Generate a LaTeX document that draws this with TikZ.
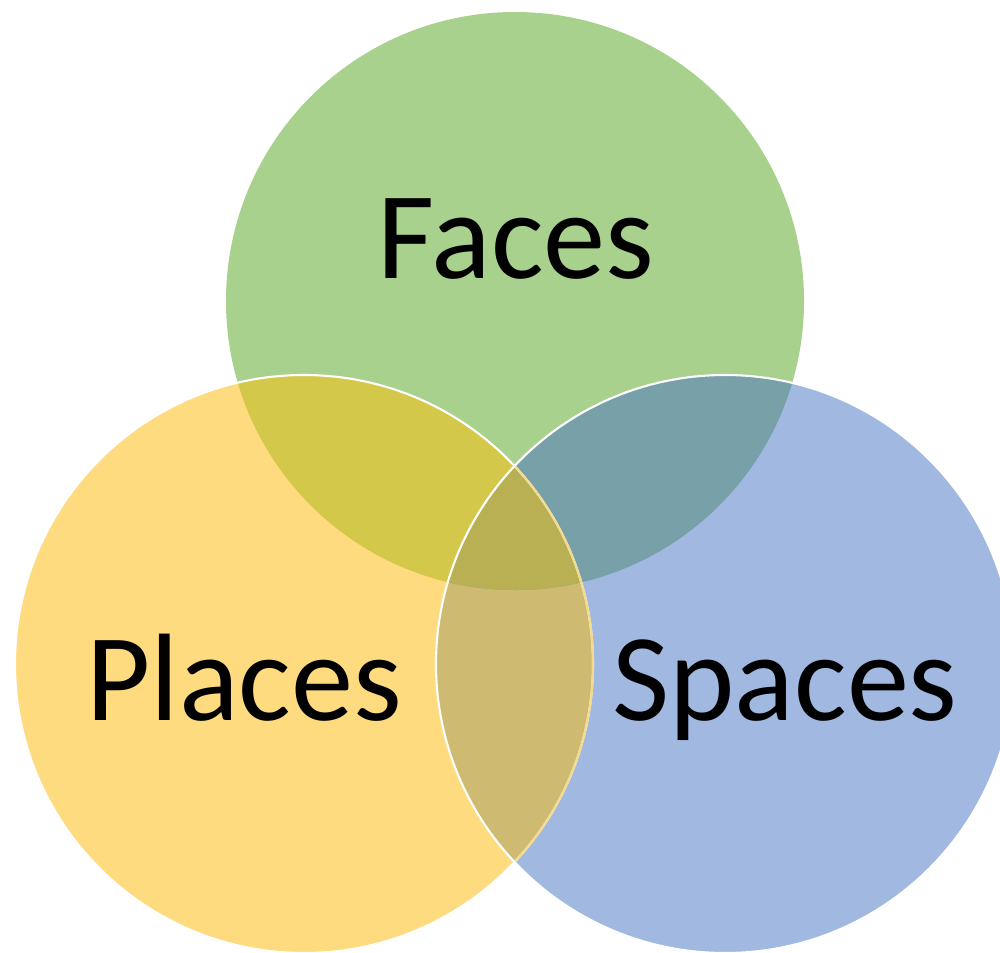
\documentclass[tikz,border=0pt]{standalone}
\usepackage{fontspec}
\setmainfont{Carlito}
\usepackage{xcolor}
\definecolor{facesGreen}{RGB}{169,209,142}
\definecolor{placesGold}{RGB}{255,219,128}
\definecolor{spacesBlue}{RGB}{161,184,224}
\definecolor{mixGoldGreen}{RGB}{212,200,74}
\definecolor{mixGreenBlue}{RGB}{119,160,168}
\definecolor{mixGoldBlue}{RGB}{206,186,113}
\definecolor{mixAll}{RGB}{185,175,83}
\definecolor{rimGold}{RGB}{244,218,140}
\newcommand{\VennR}{2.89}

\begin{document}
\begin{tikzpicture}[
  setlabel/.style={anchor=base,inner sep=0pt,font=\fontsize{35.4}{40}\selectfont}]
  \useasboundingbox (0,0) rectangle (10,9.52);
  \clip (0,0) rectangle (10,9.52);
  \coordinate (cFaces)  at (5.15,6.51);
  \coordinate (cPlaces) at (3.04,2.88);
  \coordinate (cSpaces) at (7.25,2.88);
  % plain discs
  \fill[facesGreen] (cFaces) circle (\VennR);
  \fill[placesGold] (cPlaces) circle (\VennR);
  \fill[spacesBlue] (cSpaces) circle (\VennR);
  % overlaps
  \begin{scope}
    \clip (cPlaces) circle (\VennR);
    \fill[mixGoldBlue] (cSpaces) circle (\VennR);
  \end{scope}
  \begin{scope}
    \clip (cFaces) circle (\VennR);
    \fill[mixGoldGreen] (cPlaces) circle (\VennR);
    \fill[mixGreenBlue] (cSpaces) circle (\VennR);
    \clip (cPlaces) circle (\VennR);
    \fill[mixAll] (cSpaces) circle (\VennR);
  \end{scope}
  % rims
  \draw[white,line width=0.6pt] (cPlaces) circle (\VennR);
  \begin{scope}
    \clip (cSpaces) circle (\VennR);
    \draw[rimGold,line width=0.6pt] (cPlaces) circle (\VennR);
  \end{scope}
  \draw[white,line width=0.6pt] (cSpaces) circle (\VennR);
  % labels
  \node[setlabel] (faces)  at (5.16,6.74) {Faces};
  \node[setlabel] (places) at (2.44,2.32) {Places};
  \node[setlabel] (spaces) at (7.85,2.32) {Spaces};
\end{tikzpicture}
\end{document}
